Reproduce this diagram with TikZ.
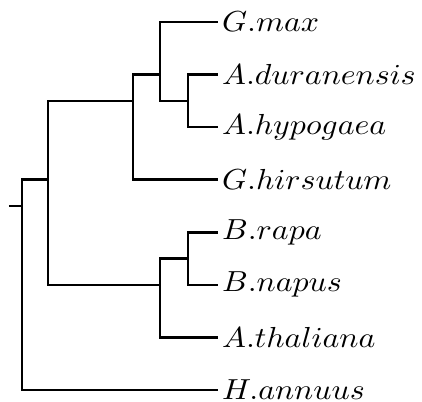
\documentclass[tikz,border=0pt]{standalone}
\begin{document}
\begin{tikzpicture}[x=0.345pt, y=-0.345pt, line width=0.85pt,
		leaf/.style={anchor=west, inner sep=1pt},
		branch/.style={draw=black}]
		\useasboundingbox (0,0) rectangle (422,402);
		%leaves
		\foreach \name/\txt [count=\i from 0] in {gmax/G.max, adur/A.duranensis, ahyp/A.hypogaea, ghir/G.hirsutum, brap/B.rapa, bnap/B.napus, atha/A.thaliana, hann/H.annuus}{
			\node[leaf] (\name) at (218, 22+\i*52.57) {\scalebox{1.1}[1]{$\txt$}};
		}
		
		%inner nodes
		\coordinate (arachis) at (188, 100.86);
		\coordinate (legume) at (160, 74.57);
		\coordinate (rosid) at (133, 100.86);
		\coordinate (brassica) at (188, 258.57);
		\coordinate (cruci) at (160, 284.86);
		\coordinate (top) at (48, 179.71);
		\coordinate (root) at (22, 206);
		\coordinate (stub) at (9, 206);
		
		%branches
		\draw[branch] (arachis) |- (adur.west);
		\draw[branch] (arachis) |- (ahyp.west);
		\draw[branch] (legume) |- (gmax.west);
		\draw[branch] (legume) |- (arachis);
		\draw[branch] (rosid) |- (legume);
		\draw[branch] (rosid) |- (ghir.west);
		\draw[branch] (brassica) |- (brap.west);
		\draw[branch] (brassica) |- (bnap.west);
		\draw[branch] (cruci) |- (brassica);
		\draw[branch] (cruci) |- (atha.west);
		\draw[branch] (top) |- (rosid);
		\draw[branch] (top) |- (cruci);
		\draw[branch] (root) |- (top);
		\draw[branch] (root) |- (hann.west);
		\draw[branch] (stub) -- (root);
\end{tikzpicture}
\end{document}
